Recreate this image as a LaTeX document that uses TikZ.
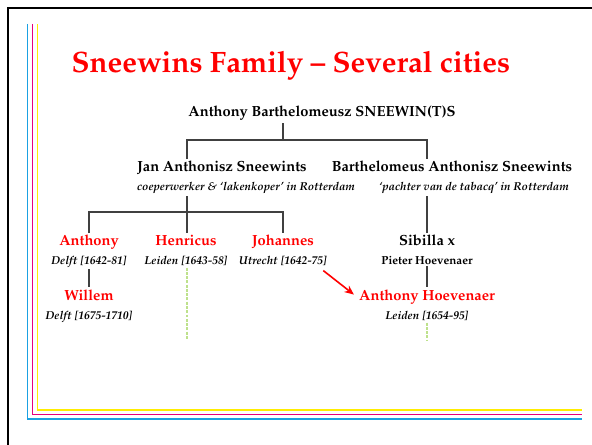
\documentclass[tikz,border=0pt]{standalone}
\usepackage[T1]{fontenc}
\usepackage{mathpazo}
\usepackage{xcolor}
\usepackage{tikz}
\usetikzlibrary{arrows, arrows.meta}

\definecolor{slidecyan}{RGB}{27,161,226}
\definecolor{slidemagenta}{RGB}{230,0,126}
\definecolor{slideyellow}{RGB}{255,237,0}
\definecolor{linegray}{RGB}{64,64,64}
\definecolor{leafgreen}{RGB}{190,225,140}

\begin{document}
\begin{tikzpicture}[x=0.75pt, y=-0.75pt]
\useasboundingbox (0,0) rectangle (592,445);
% slide frame
\draw[line width=1.6pt] (8,460) -- (8,8) -- (610,8);
\draw[slidecyan, line width=0.8pt] (27.5,24) -- (27.5,419) -- (582,419);
\draw[slidemagenta, line width=0.8pt] (32.5,24) -- (32.5,414.5) -- (582,414.5);
\draw[slideyellow, line width=0.8pt] (37.5,24) -- (37.5,410) -- (582,410);

\node[anchor=base, text=red, font=\fontsize{22.1}{26}\selectfont\bfseries] (title) at (291,73) {Sneewins Family -- Several cities};

\begin{scope}[every node/.style={anchor=base, inner sep=1.5pt},
    head/.style={font=\fontsize{11}{13}\selectfont\bfseries},
    info/.style={font=\fontsize{8.6}{10}\selectfont\bfseries\itshape},
    person/.style={text=red, font=\fontsize{11}{13}\selectfont\bfseries},
    tree/.style={linegray, line width=0.8pt},
    leaf/.style={leafgreen, line width=1.1pt, dash pattern=on 2.2pt off 1pt}]
    \node[head] (top) at (322,117) {Anthony Barthelomeusz SNEEWIN(T)S};
    \node[head] (jan) at (222,172) {Jan Anthonisz Sneewints};
    \node[info] (janinfo) at (246,191) {coeperwerker \& `lakenkoper' in Rotterdam};
    \node[head] (barth) at (452,172) {Barthelomeus Anthonisz Sneewints};
    \node[info] (barthinfo) at (474,191) {`pachter van de tabacq' in Rotterdam};

    \node[person] (anthony) at (89,246) {Anthony};
    \node[info] (delft1) at (89,264) {Delft [1642-81]};
    \node[person] (henricus) at (186,246) {Henricus};
    \node[info] (leiden1) at (186,264) {Leiden [1643-58]};
    \node[person] (johannes) at (283,246) {Johannes};
    \node[info] (utrecht) at (283,264) {Utrecht [1642-75]};
    \node[person] (willem) at (89,300) {Willem};
    \node[info] (delft2) at (89,319) {Delft [1675-1710]};

    \node[head] (sibilla) at (427,246) {Sibilla x};
    \node[head, font=\fontsize{8.7}{10}\selectfont\bfseries] (pieter) at (427,264) {Pieter Hoevenaer};
    \node[person] (hoevenaer) at (427,300) {Anthony Hoevenaer};
    \node[info] (leiden2) at (427,319) {Leiden [1654-95]};

    \coordinate (topbus) at (283,140);
    \coordinate (janbus) at (187,212);
    \coordinate (leaf1) at (187,340);
    \coordinate (leaf2) at (427,340);

\draw[tree] (top.south -| topbus) -- (topbus);
\draw[tree] (jan.north -| janbus) |- (topbus) -| (barth.north -| sibilla);
\draw[tree] (janinfo.south -| janbus) -- (janbus);
\draw[tree] (anthony.north) |- (janbus) -| (johannes.north);
\draw[tree] (janbus) -- (henricus.north -| janbus);
\draw[tree] (delft1.south) -- (willem.north);
\draw[tree] (barthinfo.south -| sibilla) -- (sibilla.north);
\draw[tree] (pieter.south) -- (hoevenaer.north);
\draw[leaf] (leiden1.south -| leaf1) -- (leaf1);
\draw[leaf] (leiden2.south) -- (leaf2);
\draw[red, line width=1.2pt, -{Stealth[length=7pt, width=6pt]}] ([shift={(-6,3)}]utrecht.south east) -- ([shift={(-3,-2)}]hoevenaer.west);
\end{scope}
\end{tikzpicture}
\end{document}
